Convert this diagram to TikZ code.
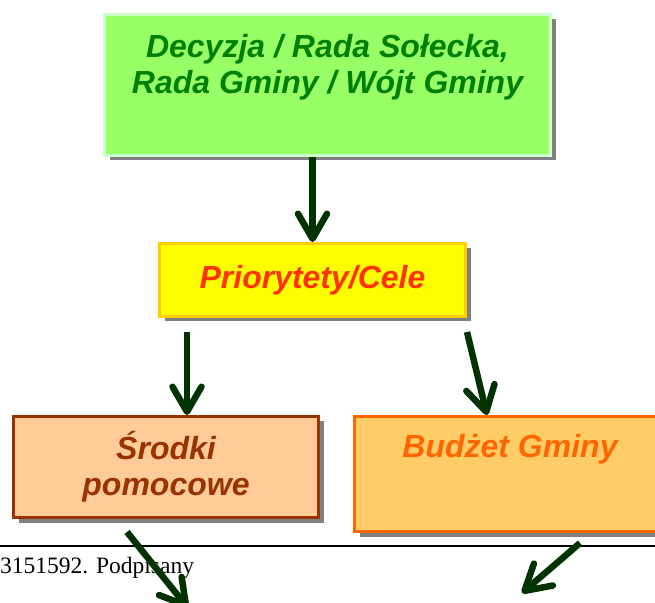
\documentclass[tikz,border=0pt]{standalone}
\usepackage{fontspec}
\setmainfont{Liberation Sans}
\newfontfamily\szeryf{Liberation Serif}
\usetikzlibrary{positioning, shadows, arrows.meta}

\definecolor{zielen}{HTML}{99FF66}
\definecolor{zielenbrzeg}{HTML}{CCFFCC}
\definecolor{zielentekst}{HTML}{008000}
\definecolor{zolty}{HTML}{FFFF00}
\definecolor{zoltybrzeg}{HTML}{FFCC00}
\definecolor{czerwony}{HTML}{FF3300}
\definecolor{brzoskwinia}{HTML}{FFCC99}
\definecolor{braz}{HTML}{993300}
\definecolor{pomarancz}{HTML}{FFCC66}
\definecolor{pomaranczbrzeg}{HTML}{FF6600}
\definecolor{strzalka}{HTML}{003300}
\definecolor{cien}{HTML}{808080}

\begin{document}
\begin{tikzpicture}[x=1pt, y=1pt,
      box/.style={rectangle, line width=3pt, inner sep=0pt, align=center,
        font=\fontsize{32}{36}\selectfont\bfseries\itshape,
        drop shadow={shadow xshift=5pt, shadow yshift=-5pt, fill=cien, opacity=1}},
      txt/.style={inner sep=0pt, align=center, font=\fontsize{32}{36}\selectfont\bfseries\itshape},
      arr/.style={strzalka, line width=6.5pt, -{Straight Barb[length=25pt, width=29pt, round]}}]

      \useasboundingbox (0,0) rectangle (655,602);
      \clip (0,0) rectangle (655,602);

      \node[box, fill=zielen, draw=zielenbrzeg, minimum width=446pt, minimum height=141pt] (decyzja) at (327.5,517) {};
      \node[txt, text=zielentekst, below=21pt of decyzja.north] (decyzjatxt) {Decyzja / Rada Sołecka,\\Rada Gminy / Wójt Gminy};

      \node[box, fill=zolty, draw=zoltybrzeg, text=czerwony, minimum width=306pt, minimum height=73pt] (priorytety) [below=85pt of decyzja, xshift=-15pt] {Priorytety/Cele}; %

      \node[box, fill=brzoskwinia, draw=braz, text=braz, minimum width=305pt, minimum height=101pt] (srodki) [below=97pt of priorytety, xshift=-146.5pt] {Środki\\pomocowe};
      \node[box, fill=pomarancz, draw=pomaranczbrzeg, minimum width=311pt, minimum height=115pt] (budzet) [below=97pt of priorytety, xshift=197.5pt] {};
      \node[txt, text=pomaranczbrzeg, anchor=base] (budzettxt) at ([yshift=-43pt]budzet.north) {Budżet Gminy};

      % stopka strony
      \draw[line width=1.5pt] (0,56) -- (655,56);
      \node[anchor=base west, inner sep=0pt, font=\szeryf\fontsize{23.5}{28}\selectfont] (podpis) at (0,29) {3151592. Podpisany};

      \coordinate (wyjscieL) at (188,-6);
      \coordinate (wyjscieP) at (522,9);

      \draw[arr] (decyzja.south -| priorytety.north) -- (priorytety.north);
      \draw[arr] ([xshift=-125.5pt, yshift=-14pt]priorytety.south) -- ([xshift=21pt]srodki.north);
      \draw[arr] ([xshift=154.5pt, yshift=-14pt]priorytety.south) -- ([xshift=-23pt]budzet.north);
      \draw[arr] ([xshift=-39pt, yshift=-13pt]srodki.south) -- (wyjscieL);
      \draw[arr] ([xshift=70pt, yshift=-10pt]budzet.south) -- (wyjscieP);
\end{tikzpicture}
\end{document}
